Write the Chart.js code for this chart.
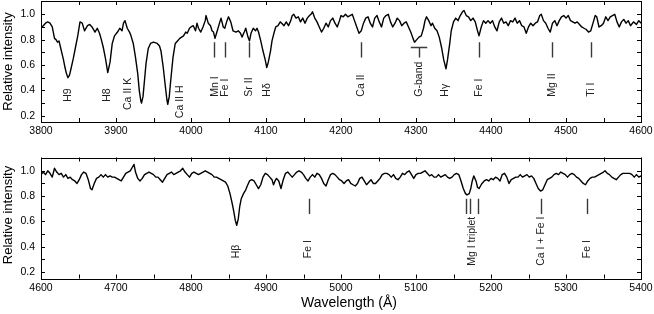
<!DOCTYPE html>
<html><head><meta charset="utf-8">
<script src="https://cdn.jsdelivr.net/npm/chart.js@4.4.1/dist/chart.umd.min.js"></script>
<style>
html,body{margin:0;padding:0;background:#fff;}
#wrap{position:relative;width:654px;height:314px;overflow:hidden;}
canvas{position:absolute;left:0;}
#c1{top:0;} #c2{top:150px;}
</style></head><body>
<div id="wrap"><canvas id="c1" width="654" height="150"></canvas><canvas id="c2" width="654" height="164"></canvas></div>
<script>
// ---------- DATA ----------
const waveTop = [3800,3803,3806,3809,3812,3815,3818,3820,3822,3824,3826,3828,3830,3832,3834,3836,3838,3840,3843,3846,3849,3852,3855,3858,3862,3865,3868,3872,3875,3878,3880,3883,3886,3889,3892,3895,3898,3902,3905,3908,3910,3912,3915,3918,3920,3923,3926,3929,3931,3933,3934,3936,3938,3940,3943,3946,3950,3955,3958,3960,3963,3966,3968,3969,3971,3973,3976,3979,3982,3985,3990,3993,3995,3998,4000,4003,4006,4008,4010,4013,4016,4019,4020,4023,4026,4028,4030,4032,4035,4038,4040,4043,4045,4048,4050,4053,4056,4060,4063,4066,4068,4071,4073,4076,4078,4080,4083,4086,4088,4090,4093,4096,4099,4101,4103,4106,4108,4111,4113,4116,4119,4121,4124,4127,4130,4133,4135,4137,4140,4143,4146,4149,4152,4155,4158,4160,4162,4165,4168,4171,4174,4177,4180,4183,4186,4189,4192,4195,4198,4200,4203,4206,4209,4212,4215,4218,4221,4224,4227,4230,4233,4236,4239,4242,4245,4248,4251,4254,4257,4260,4263,4266,4269,4272,4275,4278,4281,4284,4287,4290,4293,4296,4298,4301,4304,4307,4310,4312,4314,4317,4320,4322,4325,4328,4331,4334,4337,4340,4342,4345,4347,4350,4353,4356,4359,4362,4364,4367,4370,4373,4376,4379,4382,4384,4387,4390,4393,4396,4399,4402,4405,4408,4411,4414,4417,4420,4423,4426,4429,4432,4435,4438,4441,4444,4447,4450,4453,4456,4459,4462,4465,4467,4470,4473,4476,4479,4482,4485,4488,4491,4494,4497,4500,4503,4506,4509,4512,4515,4518,4521,4524,4527,4530,4533,4536,4539,4541,4544,4547,4550,4553,4556,4559,4562,4565,4568,4571,4574,4577,4580,4583,4586,4590,4594,4597,4600];
const fluxTop = [0.89,0.91,0.93,0.94,0.93,0.90,0.81,0.80,0.78,0.79,0.74,0.69,0.64,0.58,0.53,0.50,0.52,0.57,0.65,0.74,0.83,0.94,0.93,0.87,0.91,0.92,0.90,0.86,0.89,0.85,0.81,0.74,0.65,0.54,0.62,0.77,0.83,0.86,0.89,0.87,0.93,0.95,0.89,0.86,0.83,0.77,0.66,0.53,0.40,0.32,0.30,0.35,0.48,0.61,0.73,0.77,0.78,0.77,0.75,0.71,0.58,0.42,0.32,0.29,0.35,0.48,0.66,0.77,0.79,0.81,0.83,0.86,0.85,0.89,0.90,0.91,0.87,0.93,0.89,0.86,0.90,0.95,0.99,0.93,0.91,0.87,0.86,0.81,0.87,0.93,0.97,0.90,0.89,0.95,0.98,0.94,0.87,0.86,0.87,0.85,0.82,0.86,0.89,0.82,0.79,0.85,0.89,0.87,0.89,0.86,0.79,0.71,0.64,0.58,0.62,0.71,0.79,0.86,0.90,0.91,0.94,0.93,0.91,0.94,0.91,0.95,0.99,1.00,0.97,0.98,0.94,0.97,0.93,0.97,0.99,1.00,1.02,0.97,0.94,0.90,0.86,0.89,0.93,0.90,0.95,0.97,0.93,0.90,0.95,0.99,0.98,1.00,0.98,0.99,1.00,0.95,0.90,0.85,0.87,0.93,0.97,0.98,0.93,0.90,0.97,0.99,0.94,0.90,0.97,0.99,1.00,0.94,0.90,0.93,0.97,0.95,0.91,0.93,0.94,0.90,0.86,0.81,0.78,0.80,0.82,0.83,0.89,0.95,0.98,0.95,0.91,0.93,0.89,0.87,0.82,0.74,0.64,0.57,0.64,0.77,0.87,0.94,0.97,0.95,0.99,1.02,1.03,0.99,0.98,0.95,0.97,0.94,0.87,0.83,0.90,0.95,0.93,0.95,0.93,0.95,0.90,0.87,0.94,0.97,0.93,0.94,0.91,0.95,0.94,0.97,0.93,0.95,0.91,0.90,0.85,0.90,0.93,0.91,0.93,0.94,0.99,1.00,0.95,0.93,0.89,0.86,0.93,0.95,0.91,0.95,0.98,0.99,0.97,0.99,0.95,0.94,0.93,0.94,0.92,0.90,0.89,0.88,0.86,0.87,0.93,0.99,0.98,0.90,0.91,0.93,0.98,0.95,0.98,0.99,1.00,0.94,0.90,0.94,0.96,0.93,0.95,0.91,0.94,0.92,0.95,0.93];

const waveBottom = [4600,4603,4606,4609,4612,4615,4618,4621,4624,4627,4630,4633,4636,4639,4642,4645,4648,4651,4654,4657,4660,4663,4666,4668,4671,4674,4677,4680,4683,4686,4689,4692,4695,4698,4701,4704,4707,4710,4713,4716,4719,4722,4724,4726,4729,4732,4735,4738,4741,4744,4747,4750,4753,4756,4759,4762,4765,4768,4771,4774,4777,4780,4783,4786,4789,4792,4795,4798,4801,4804,4807,4810,4813,4816,4819,4822,4825,4828,4831,4834,4837,4840,4843,4846,4849,4852,4855,4857,4859,4861,4863,4865,4867,4870,4873,4875,4878,4881,4884,4887,4890,4893,4896,4899,4902,4905,4908,4910,4912,4914,4917,4920,4923,4926,4929,4932,4935,4938,4941,4944,4947,4950,4953,4956,4959,4962,4965,4968,4971,4974,4977,4980,4983,4986,4989,4992,4995,4998,5001,5004,5007,5010,5013,5016,5019,5022,5025,5028,5031,5034,5037,5040,5043,5046,5049,5052,5055,5058,5061,5064,5067,5070,5073,5076,5079,5082,5085,5088,5091,5094,5097,5100,5103,5106,5109,5112,5115,5118,5121,5124,5127,5130,5133,5136,5139,5142,5145,5148,5151,5154,5157,5160,5163,5166,5168,5171,5173,5175,5177,5180,5182,5184,5186,5188,5191,5194,5197,5200,5203,5206,5209,5212,5215,5218,5221,5224,5227,5230,5233,5236,5239,5242,5245,5248,5251,5254,5257,5260,5263,5266,5269,5272,5275,5278,5281,5284,5287,5290,5293,5296,5299,5302,5305,5308,5311,5314,5317,5320,5323,5326,5329,5332,5335,5338,5341,5344,5347,5350,5352,5355,5358,5361,5364,5367,5370,5373,5376,5379,5382,5385,5388,5391,5394,5397,5400];
const fluxBottom = [0.97,0.99,0.97,1.00,0.98,0.95,1.02,0.99,0.97,0.98,0.95,0.97,0.94,0.95,0.93,0.92,0.90,0.93,0.97,0.99,0.98,0.93,0.86,0.85,0.90,0.94,0.95,0.97,0.95,0.97,0.95,0.96,0.95,0.95,0.94,0.93,0.92,0.95,0.98,0.99,1.00,1.03,1.05,0.99,0.94,0.92,0.94,0.97,0.98,0.99,0.98,0.97,0.95,0.95,0.93,0.91,0.94,0.97,0.98,0.99,0.97,0.98,0.99,1.00,1.02,0.99,0.97,0.95,0.98,0.99,0.98,0.97,0.98,0.99,1.00,0.99,0.98,0.97,0.95,0.95,0.94,0.93,0.92,0.91,0.88,0.82,0.74,0.68,0.61,0.57,0.62,0.72,0.78,0.82,0.85,0.88,0.92,0.93,0.92,0.89,0.86,0.89,0.95,0.98,0.97,0.95,0.93,0.89,0.92,0.94,0.92,0.86,0.93,0.98,0.99,0.97,0.95,0.97,0.99,1.00,0.99,0.97,0.94,0.92,0.95,0.97,0.95,0.98,0.97,0.94,0.90,0.88,0.93,0.97,0.98,0.97,0.95,0.93,0.92,0.90,0.92,0.93,0.90,0.89,0.88,0.90,0.94,0.95,0.92,0.89,0.91,0.93,0.90,0.90,0.92,0.94,0.97,0.98,0.98,0.97,0.95,0.97,0.94,0.93,0.95,0.98,0.97,0.99,1.00,0.97,0.94,0.97,0.98,0.98,0.99,1.00,0.98,0.96,0.97,0.95,0.95,0.97,0.95,0.96,0.97,0.95,0.94,0.95,0.97,0.98,0.97,0.92,0.86,0.82,0.81,0.82,0.86,0.92,0.96,0.92,0.87,0.86,0.88,0.90,0.92,0.93,0.92,0.94,0.93,0.95,0.94,0.92,0.97,0.98,0.95,0.90,0.93,0.94,0.95,0.95,0.97,0.95,0.96,0.97,0.95,0.96,0.94,0.90,0.86,0.84,0.85,0.89,0.93,0.94,0.95,0.97,0.98,0.97,0.99,0.98,0.97,0.95,0.97,0.98,0.97,0.95,0.94,0.92,0.90,0.89,0.92,0.94,0.95,0.95,0.96,0.97,0.98,0.99,1.00,0.98,0.97,0.95,0.94,0.93,0.95,0.97,0.98,0.98,0.98,0.98,0.97,0.95,0.97,0.95,0.96];

const xTicksTop = [3800,3900,4000,4100,4200,4300,4400,4500,4600];
const xTicksBottom = [4600,4700,4800,4900,5000,5100,5200,5300,5400];
const yTicks = [0.2,0.4,0.6,0.8,1.0];

// line identifications
const topLineNames = ['H9','H8','Ca II K','Ca II H','Mn I','Fe I','Sr II','Hδ','Ca II','G-band','Hγ','Fe I','Mg II','Ti I'];
const topLineWaves = [3836,3887,3916,3985,4031,4045,4077,4101,4226,4304,4338,4384,4481,4533];
const topMarkWaves = [4031,4045,4077,4226,4384,4481,4533];
const gBandRange = [4293,4315];
const gBandCentre = 4304;

const bottomLineNames = ['Hβ','Fe I','Mg I triplet','Ca I + Fe I','Fe I'];
const bottomLineWaves = [4860,4956,5174,5266,5328];
const bottomMarkWaves = [4957,5167,5172,5183,5267,5328];

// ---------- LAYOUT (not data) ----------
const FONT = "'Liberation Sans', Arial, Helvetica, sans-serif";
const Y_MIN = 0.15, Y_MAX = 1.105;
const MARK_LO = 0.66, MARK_HI = 0.78, GBAR_Y = 0.745;
const topLabelBase = [0.31,0.31,0.245,0.18,0.35,0.35,0.35,0.35,0.35,0.35,0.35,0.35,0.35,0.35];
const bottomLabelBase = [0.31,0.31,0.25,0.25,0.31];

function annotPlugin(cfg){
  return {
    id:'annot'+cfg.id,
    afterDraw(chart){
      const {ctx, chartArea:a, scales:{x,y}} = chart;
      ctx.save();
      ctx.strokeStyle='#000'; ctx.lineWidth=1;
      ctx.strokeRect(Math.round(a.left)+0.5, Math.round(a.top)+0.5, Math.round(a.right-a.left), Math.round(a.bottom-a.top));
      ctx.beginPath();
      const TL=4;
      for(let v=x.min; v<=x.max+1e-6; v+=50){
        const px=Math.round(x.getPixelForValue(v))+0.5;
        ctx.moveTo(px,a.bottom); ctx.lineTo(px,a.bottom-TL);
        ctx.moveTo(px,a.top); ctx.lineTo(px,a.top+TL);
      }
      for(let k=2;k<=10;k++){
        const py=Math.round(y.getPixelForValue(k/10))+0.5;
        ctx.moveTo(a.left,py); ctx.lineTo(a.left+TL,py);
        ctx.moveTo(a.right,py); ctx.lineTo(a.right-TL,py);
      }
      ctx.stroke();
      ctx.strokeStyle='#3a3a3a'; ctx.lineWidth=1.4;
      ctx.beginPath();
      cfg.marks.forEach(w=>{
        const px=Math.round(x.getPixelForValue(w))+0.5;
        ctx.moveTo(px,y.getPixelForValue(MARK_HI)); ctx.lineTo(px,y.getPixelForValue(MARK_LO));
      });
      if(cfg.gband){
        const gy=Math.round(y.getPixelForValue(GBAR_Y))+0.5;
        ctx.moveTo(x.getPixelForValue(cfg.gband[0]),gy); ctx.lineTo(x.getPixelForValue(cfg.gband[1]),gy);
        const gx=Math.round(x.getPixelForValue(cfg.gbandC))+0.5;
        ctx.moveTo(gx,gy); ctx.lineTo(gx,y.getPixelForValue(MARK_LO));
      }
      ctx.stroke();
      ctx.fillStyle='#222'; ctx.font='10.5px '+FONT;
      ctx.textAlign='left'; ctx.textBaseline='middle';
      cfg.names.forEach((n,i)=>{
        ctx.save();
        ctx.translate(x.getPixelForValue(cfg.waves[i]), y.getPixelForValue(cfg.base[i]));
        ctx.rotate(-Math.PI/2);
        ctx.fillText(n,0,0.5);
        ctx.restore();
      });
      ctx.fillStyle='#000'; ctx.font='13px '+FONT; ctx.textAlign='center';
      ctx.save();
      ctx.translate(8,(a.top+a.bottom)/2+cfg.yTitleShift);
      ctx.rotate(-Math.PI/2);
      ctx.fillText('Relative intensity',0,0);
      ctx.restore();
      if(cfg.xTitle){
        ctx.font='14px '+FONT; ctx.textAlign='center'; ctx.textBaseline='middle';
        ctx.fillText(cfg.xTitle, 349, chart.height-11);
      }
      ctx.restore();
    }
  };
}

function makeChart(id, waves, flux, xTicks, padTop, xAxisH, annot){
  const pts = waves.map((w,i)=>({x:w,y:flux[i]}));
  return new Chart(document.getElementById(id),{
    type:'line',
    data:{datasets:[{data:pts,borderColor:'#000',borderWidth:1.4,pointRadius:0,tension:0,fill:false,borderJoinStyle:'round'}]},
    options:{
      responsive:false, animation:false, devicePixelRatio:1,
      layout:{padding:{left:0,right:13,top:padTop,bottom:0}},
      plugins:{legend:{display:false},tooltip:{enabled:false}},
      scales:{
        x:{type:'linear',min:xTicks[0],max:xTicks[xTicks.length-1],
           afterBuildTicks(s){ s.ticks = xTicks.map(v=>({value:v})); },
           afterFit(s){ s.height=xAxisH; s.paddingLeft=0; s.paddingRight=0; },
           grid:{display:false,drawTicks:false}, border:{display:false},
           ticks:{color:'#000',font:{size:10.5,family:FONT},padding:3,maxRotation:0,autoSkip:false,
                  callback:v=>String(v)}},
        y:{min:Y_MIN,max:Y_MAX,
           afterBuildTicks(s){ s.ticks = yTicks.map(v=>({value:v})); },
           afterFit(s){ s.width=41; s.paddingTop=0; s.paddingBottom=0; },
           grid:{display:false,drawTicks:false}, border:{display:false},
           ticks:{color:'#000',font:{size:10.5,family:FONT},padding:6,callback:v=>v.toFixed(1)}}
      }
    },
    plugins:[annot]
  });
}

makeChart('c1', waveTop, fluxTop, xTicksTop, 1, 28,
  annotPlugin({id:1, marks:topMarkWaves, gband:gBandRange, gbandC:gBandCentre, names:topLineNames, waves:topLineWaves, base:topLabelBase, yTitleShift:0}));
makeChart('c2', waveBottom, fluxBottom, xTicksBottom, 7.5, 35.5,
  annotPlugin({id:2, marks:bottomMarkWaves, names:bottomLineNames, waves:bottomLineWaves, base:bottomLabelBase, yTitleShift:-3, xTitle:'Wavelength (Å)'}));
</script>
</body></html>
